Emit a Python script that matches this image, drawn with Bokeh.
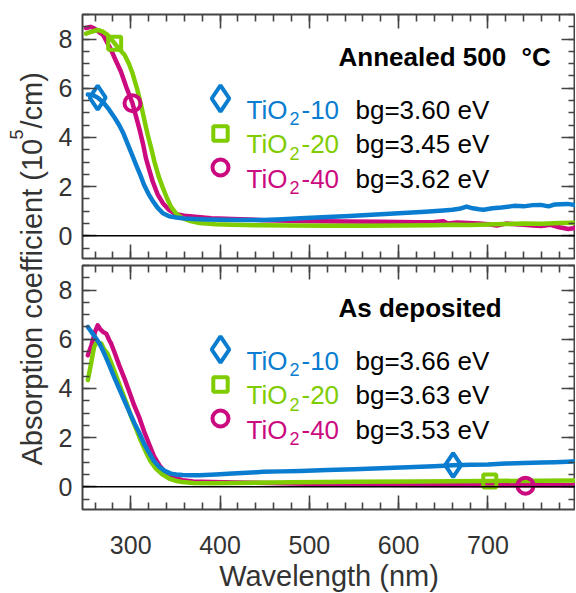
import math
from bokeh.plotting import figure
from bokeh.models import (Range1d, LinearAxis, SingleIntervalTicker, Span, Label,
                          Legend, LegendItem)
from bokeh.layouts import row, column
from bokeh.embed import file_html
from bokeh.resources import INLINE

# ---------------- data ----------------
# Annealed 500 C
wl_ann_10 = [252, 258, 263, 270, 276, 282, 287, 292, 297, 302, 306, 311, 315, 320, 325, 330, 336, 343,
             351, 360, 370, 385, 400, 420, 448, 470, 490, 520, 545, 565, 590, 610, 630, 650, 660, 668,
             676, 683, 690, 695, 705, 715, 729, 740, 750, 759, 768, 775, 789, 798]
ab_ann_10 = [5.75, 5.72, 5.62, 5.40, 5.12, 4.80, 4.51, 4.15, 3.70, 3.25, 2.89, 2.45, 2.07, 1.70, 1.40,
             1.15, 0.92, 0.80, 0.75, 0.71, 0.69, 0.67, 0.66, 0.65, 0.65, 0.68, 0.72, 0.77, 0.81, 0.85,
             0.90, 0.94, 0.98, 1.03, 1.06, 1.10, 1.19, 1.12, 1.08, 1.06, 1.12, 1.15, 1.22, 1.20, 1.25,
             1.26, 1.20, 1.28, 1.30, 1.25]

wl_ann_20 = [250, 256, 263, 269, 274, 278, 282, 287, 293, 298, 302, 307, 311.5, 315, 319, 323, 326.5,
             331, 336, 341, 345, 351, 358, 367, 377, 395, 414, 448, 480, 520, 560, 600, 640, 660, 680,
             700, 720, 740, 760, 780, 798]
ab_ann_20 = [8.22, 8.30, 8.37, 8.30, 8.17, 8.00, 7.83, 7.60, 7.36, 7.00, 6.61, 6.00, 5.33, 4.75, 4.11,
             3.55, 3.02, 2.45, 1.95, 1.50, 1.19, 0.90, 0.72, 0.60, 0.52, 0.47, 0.45, 0.43, 0.42, 0.41,
             0.41, 0.42, 0.43, 0.45, 0.44, 0.46, 0.48, 0.50, 0.49, 0.52, 0.53]

wl_ann_40 = [250, 255, 259, 264, 269, 273, 278, 283, 289, 295, 302, 306, 310, 314, 317, 321, 324.6,
             330, 336, 343, 351, 360, 369, 390, 414, 450, 490, 540, 580, 620, 640, 650, 655, 665, 690,
             700, 710, 720, 740, 750, 760, 770, 780, 790, 798]
ab_ann_40 = [8.45, 8.50, 8.44, 8.30, 8.17, 7.90, 7.56, 7.15, 6.68, 6.05, 5.39, 4.85, 4.31, 3.70, 3.16,
             2.65, 2.21, 1.70, 1.33, 1.05, 0.88, 0.82, 0.79, 0.72, 0.69, 0.64, 0.60, 0.58, 0.57, 0.55,
             0.56, 0.60, 0.50, 0.54, 0.50, 0.47, 0.42, 0.50, 0.45, 0.42, 0.40, 0.45, 0.35, 0.28, 0.32]

# As deposited
wl_dep_10 = [252, 258, 265, 270, 276, 281, 287, 293, 298.5, 304, 310, 315, 321, 326, 332, 338, 345, 351,
             358, 367, 377, 395, 414, 430, 448, 470, 490, 520, 550, 580, 610, 640, 661, 680, 700, 720,
             740, 760, 775, 789, 798]
ab_dep_10 = [6.50, 6.20, 5.83, 5.45, 4.95, 4.50, 4.00, 3.50, 3.05, 2.60, 2.17, 1.75, 1.36, 1.05, 0.81,
             0.65, 0.54, 0.50, 0.48, 0.47, 0.47, 0.50, 0.54, 0.57, 0.61, 0.63, 0.65, 0.69, 0.72, 0.76,
             0.80, 0.84, 0.88, 0.90, 0.91, 0.95, 0.97, 0.99, 1.00, 1.02, 1.04]

wl_dep_20 = [252, 255, 259, 261, 264, 267, 270, 274, 278, 283.5, 289, 294.7, 300, 306, 311, 317, 322,
             328, 335, 343, 350, 358, 370, 390, 420, 480, 550, 620, 700, 760, 798]
ab_dep_20 = [4.34, 4.90, 5.69, 5.83, 5.85, 5.83, 5.60, 5.42, 5.05, 4.54, 4.00, 3.46, 2.90, 2.37, 1.90,
             1.42, 1.05, 0.75, 0.52, 0.34, 0.25, 0.20, 0.16, 0.15, 0.16, 0.19, 0.21, 0.22, 0.24, 0.25,
             0.26]

wl_dep_40 = [252, 256, 260, 263, 266, 269, 272.6, 276, 278, 282, 287, 293, 298.5, 304, 310, 315, 321,
             326, 332, 338, 343, 350, 358, 370, 390, 420, 480, 550, 620, 700, 760, 798]
ab_dep_40 = [5.35, 5.76, 6.30, 6.57, 6.40, 6.30, 6.23, 5.96, 5.83, 5.45, 4.95, 4.40, 3.86, 3.30, 2.78,
             2.25, 1.70, 1.25, 0.88, 0.62, 0.48, 0.35, 0.27, 0.22, 0.20, 0.18, 0.14, 0.10, 0.08, 0.07,
             0.07, 0.07]

# markers on the curves
mk_ann_wl = [263, 282, 302]
mk_ann_ab = [5.62, 7.83, 5.39]
mk_dep_wl = [661, 702, 742]
mk_dep_ab = [0.88, 0.24, 0.05]

series_suffix = ["-10", "-20", "-40"]
bg_ann = [3.60, 3.45, 3.62]
bg_dep = [3.66, 3.63, 3.53]
panel_titles = ["Annealed 500", "As deposited"]
x_title = "Wavelength (nm)"
x_ticks_interval = 100
y_ticks_interval = 2

# ---------------- style ----------------
FONT = "Liberation Sans"
TXT = "#333333"
COLORS = ["#0a7dd0", "#7fcc00", "#cc0a80"]
MARKERS = ["diamond", "square", "circle"]
MSIZE = [24, 13, 16]          # on-curve marker sizes
LEG_BOX = [66, 36, 40]        # legend glyph boxes (marker size = 0.4 * box)
X0, X1 = 246, 798
Y0, Y1 = -0.92, 9.0
FW, FH = 493, 244
PAGE_H = 593
LW = 52                        # width of the strip holding the y title


def fx(px):
    return X0 + px * (X1 - X0) / FW


def fy(py):
    return Y1 - py * (Y1 - Y0) / FH


def style_axis(ax, labels):
    ax.major_tick_in = 14
    ax.major_tick_out = 0
    ax.minor_tick_in = 7
    ax.minor_tick_out = 0
    ax.major_tick_line_color = "#444444"
    ax.minor_tick_line_color = "#444444"
    ax.major_tick_line_width = 1.6
    ax.minor_tick_line_width = 1.6
    ax.axis_line_color = None
    ax.major_label_text_font = FONT
    ax.major_label_text_color = TXT
    ax.major_label_text_font_size = "25px"
    if not labels:
        ax.major_label_text_color = None
        ax.major_label_text_alpha = 0
        ax.major_label_text_font_size = "1px"
        ax.major_label_standoff = 0


def text(p, x, y, s, size, color, bold=False, align="left"):
    p.add_layout(Label(x=fx(x), y=fy(y), text=s, text_font=FONT,
                       text_font_size=f"{size}px", text_color=color,
                       text_baseline="alphabetic", text_align=align,
                       text_font_style="bold" if bold else "normal"))


def make_panel(curves, mk_wl, mk_ab, bgs, title, bottom):
    p = figure(frame_width=FW, frame_height=FH, x_range=Range1d(X0, X1), y_range=Range1d(Y0, Y1),
               output_backend="svg", toolbar_location=None,
               min_border_left=30, min_border_right=0,
               min_border_top=14 if not bottom else 4,
               min_border_bottom=3 if not bottom else 30)
    p.grid.visible = False
    p.outline_line_color = "#444444"
    p.outline_line_width = 2
    p.background_fill_color = "white"
    p.border_fill_color = "white"

    p.xaxis.ticker = SingleIntervalTicker(interval=x_ticks_interval, num_minor_ticks=5)
    p.yaxis.ticker = SingleIntervalTicker(interval=y_ticks_interval, num_minor_ticks=4)
    style_axis(p.xaxis[0], bottom)
    style_axis(p.yaxis[0], True)
    p.yaxis.major_label_standoff = 10
    if bottom:
        p.xaxis.major_label_standoff = 26
        p.xaxis.axis_label = x_title
        p.xaxis.axis_label_text_font = FONT
        p.xaxis.axis_label_text_font_size = "29px"
        p.xaxis.axis_label_text_font_style = "normal"
        p.xaxis.axis_label_text_color = TXT
        p.xaxis.axis_label_standoff = 3
    ra = LinearAxis(ticker=SingleIntervalTicker(interval=y_ticks_interval, num_minor_ticks=4))
    style_axis(ra, False)
    p.add_layout(ra, "right")
    ta = LinearAxis(ticker=SingleIntervalTicker(interval=x_ticks_interval, num_minor_ticks=5))
    style_axis(ta, False)
    p.add_layout(ta, "above")

    p.add_layout(Span(location=0, dimension="width", line_color="black", line_width=1.5))

    for i in [2, 1, 0]:
        wl, ab = curves[i]
        p.line(wl, ab, line_color=COLORS[i], line_width=4.5, line_join="round", line_cap="round")
    mrs = []
    for i in range(3):
        r = p.scatter([mk_wl[i]], [mk_ab[i]], marker=MARKERS[i], size=MSIZE[i],
                      line_color=COLORS[i], line_width=4, fill_alpha=0)
        mrs.append(r)

    rows_cy = [84, 118.5, 153]
    for i in range(3):
        b = LEG_BOX[i]
        cx, cy = 138, rows_cy[i]
        leg = Legend(items=[LegendItem(label=" ", renderers=[mrs[i]])],
                     location=(cx - b / 2, FH - (cy + b / 2)),
                     glyph_width=b, glyph_height=b, padding=0, margin=0, spacing=0,
                     label_standoff=0, label_text_font_size="1px", label_width=0, label_height=0,
                     background_fill_alpha=0, border_line_alpha=0)
        p.add_layout(leg)
        base = cy + 11
        text(p, 164, base, "TiO", 26, COLORS[i])
        text(p, 207, base + 9, "2", 18, COLORS[i])
        text(p, 219, base, series_suffix[i], 26, COLORS[i])
        text(p, 273, base, f"bg={bgs[i]:.2f} eV", 26, "black")

    text(p, 256, 42, title, 26, "black", bold=True)
    if not bottom:
        text(p, 439, 42, "°C", 26, "black", bold=True)
    return p


top = make_panel([(wl_ann_10, ab_ann_10), (wl_ann_20, ab_ann_20), (wl_ann_40, ab_ann_40)],
                 mk_ann_wl, mk_ann_ab, bg_ann, panel_titles[0], False)
bot = make_panel([(wl_dep_10, ab_dep_10), (wl_dep_20, ab_dep_20), (wl_dep_40, ab_dep_40)],
                 mk_dep_wl, mk_dep_ab, bg_dep, panel_titles[1], True)

# shared y-axis title strip
lf = figure(width=LW, height=PAGE_H, x_range=Range1d(0, LW), y_range=Range1d(0, PAGE_H),
            x_axis_type=None, y_axis_type=None, output_backend="svg", toolbar_location=None,
            min_border=0)
lf.outline_line_color = None
lf.grid.visible = False
ang = math.pi / 2
start = PAGE_H - 465
main1 = "Absorption coefficient (10"
w1 = 327
lf.add_layout(Label(x=31, y=start, text=main1, angle=ang, text_font=FONT, text_font_size="29px",
                    text_color=TXT, text_baseline="middle", text_align="left"))
lf.add_layout(Label(x=15.5, y=start + w1 - 1, text="5", angle=ang, text_font=FONT, text_font_size="18px",
                    text_color=TXT, text_baseline="middle", text_align="left"))
lf.add_layout(Label(x=31, y=start + w1 + 10, text="/cm)", angle=ang, text_font=FONT,
                    text_font_size="29px", text_color=TXT, text_baseline="middle", text_align="left"))

layout = row(lf, column(top, bot))
open("out.html", "w").write(file_html(layout, INLINE))
